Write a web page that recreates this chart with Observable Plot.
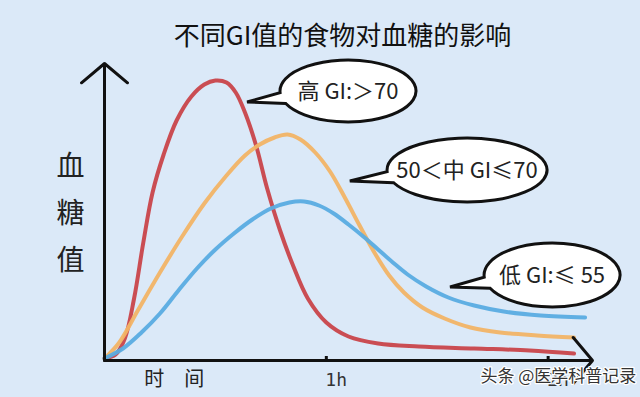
<!DOCTYPE html>
<html>
<head>
<meta charset="utf-8">
<script src="https://cdn.jsdelivr.net/npm/d3@7"></script>
<script src="https://cdn.jsdelivr.net/npm/@observablehq/plot@0.6"></script>
<style>
  html, body { margin: 0; padding: 0; background: #dbe9f8; }
  #chart svg { display: block; background: #dbe9f8; }
</style>
</head>
<body>
<div id="chart"></div>
<script>
// ---- Data (time in minutes, blood-sugar in relative units) ----
const title = "不同GI值的食物对血糖的影响";
const yLabel = "血\n糖\n值";
const xLabel = "时\u2003间";
const tickTimes = [60, 120];
const tickLabels = ["1h", "2h"];
const watermark = "头条 @医学科普记录";

const redT = [0, 3, 5.5, 8, 10.5, 13, 16, 19.5, 23.5, 27, 30, 33, 35.5, 38, 41, 44, 47.5, 51, 55, 60, 66, 74, 85, 100, 115, 127];
const redV = [2, 6, 22, 62, 118, 168, 206, 240, 264, 276, 280, 278, 268, 248, 215, 172, 130, 95, 62, 38, 24, 17, 14, 12, 10, 7];

const orangeT = [0, 4, 9, 15, 21, 27, 33, 38, 42, 46, 49.5, 53, 57, 61, 65, 69, 73, 77, 81, 86, 92, 99, 107, 117, 127];
const orangeV = [2, 18, 50, 88, 124, 157, 185, 205, 216, 223, 226, 221, 208, 189, 163, 135, 108, 85, 68, 53, 42, 33, 28, 25, 23];

const blueT = [0, 5, 10, 15, 20, 25, 30, 35, 40, 45, 50, 54, 58, 62, 66, 70, 74, 78, 82, 87, 93, 100, 108, 118, 130];
const blueV = [2, 12, 28, 47, 70, 92, 111, 127, 141, 152, 158, 159, 155, 147, 136, 124, 111, 98, 86, 74, 63, 55, 49, 45, 43];

const seriesNames = ["高GI", "中GI", "低GI"];
const seriesColors = ["#c9454a", "#f2b466", "#5aace2"];

// Annotation bubbles: label, bubble centre (t, v), tail tip (t, v)
const bubbleTexts = ["高 GI:＞70", "50＜中 GI≤70", "低 GI:≤ 55"];
const bubbleCX = [66.0, 98.2, 121.2];
const bubbleCY = [269, 190, 85];
const tailX = [38.7, 66.5, 93.6];
const tailY = [258, 179, 73];

// ---- Build tables ----
const lines = [
  ...redT.map((t, i) => ({t, v: redV[i], s: seriesNames[0]})),
  ...orangeT.map((t, i) => ({t, v: orangeV[i], s: seriesNames[1]})),
  ...blueT.map((t, i) => ({t, v: blueV[i], s: seriesNames[2]}))
];
const bubbles = bubbleTexts.map((text, i) => ({text, cx: bubbleCX[i], cy: bubbleCY[i], tx: tailX[i], ty: tailY[i]}));
const ticks = tickTimes.map((t, i) => ({t, label: tickLabels[i]}));

const CJK = "'Noto Sans CJK SC', 'Noto Sans', sans-serif";
const RX = [68, 80, 68], RY = [31, 32, 32];

// Custom mark: speech bubbles placed through the plot's scales
function bubbleMark(index, scales, values, dimensions, context) {
  const g = d3.create("svg:g");
  bubbles.forEach((b, i) => {
    const cx = scales.x(b.cx), cy = scales.y(b.cy);
    const tx = scales.x(b.tx), ty = scales.y(b.ty);
    const rx = RX[i], ry = RY[i];
    const t0 = Math.atan2((ty - cy) / ry, (tx - cx) / rx);
    const d = 0.18;
    const ax = cx + rx * Math.cos(t0 - d), ay = cy + ry * Math.sin(t0 - d);
    const bx = cx + rx * Math.cos(t0 + d), by = cy + ry * Math.sin(t0 + d);
    g.append("path")
      .attr("d", `M${ax},${ay}L${tx},${ty}L${bx},${by}A${rx},${ry} 0 1 1 ${ax},${ay}Z`)
      .attr("fill", "#ffffff")
      .attr("stroke", "#111")
      .attr("stroke-width", 3)
      .attr("stroke-linejoin", "miter");
    g.append("text")
      .attr("x", cx)
      .attr("y", cy)
      .attr("text-anchor", "middle")
      .attr("dy", "0.36em")
      .attr("font-family", CJK)
      .attr("font-size", 22)
      .attr("fill", "#222")
      .text(b.text);
  });
  return g.node();
}

const chart = Plot.plot({
  width: 640,
  height: 397,
  marginLeft: 104,
  marginRight: 48,
  marginTop: 65,
  marginBottom: 37,
  x: {domain: [0, 132], axis: null},
  y: {domain: [0, 295], axis: null},
  color: {domain: seriesNames, range: seriesColors},
  style: {background: "#dbe9f8", overflow: "visible"},
  marks: [
    Plot.line(lines, {x: "t", y: "v", z: "s", stroke: "s", strokeWidth: 4, curve: "catmull-rom", strokeOpacity: 0.95}),
    Plot.arrow([{x1: 0, y1: 0, x2: 132, y2: 0}], {x1: "x1", y1: "y1", x2: "x2", y2: "y2", stroke: "#111", strokeWidth: 3, headLength: 15, headAngle: 100}),
    Plot.arrow([{x1: 0, y1: 0, x2: 0, y2: 297}], {x1: "x1", y1: "y1", x2: "x2", y2: "y2", stroke: "#111", strokeWidth: 3, headLength: 15, headAngle: 100}),
    Plot.ruleX(ticks, {x: "t", y1: 0, y2: 4, stroke: "#111", strokeWidth: 3}),
    bubbleMark,
    Plot.text(ticks, {x: "t", y: -20, text: "label", textAnchor: "start", dx: -1, fontSize: 18, fontFamily: "'DejaVu Sans Mono', monospace", fill: "#333"}),
    Plot.text([xLabel], {x: 18.9, y: -19, text: d => d, fontSize: 20, fontFamily: CJK, fill: "#222"}),
    Plot.text([yLabel], {frameAnchor: "left", y: 153, dx: -34, text: d => d, textAnchor: "middle", lineHeight: 1.68, fontSize: 28, fontFamily: CJK, fill: "#222"}),
    Plot.text([title], {frameAnchor: "top", dx: -6, dy: -39, text: d => d, fontSize: 26, fontFamily: CJK, fill: "#111"}),
    Plot.text([watermark], {x: 101.7, y: -16, text: d => d, textAnchor: "start", fontSize: 17, fontFamily: CJK, fill: "#333", stroke: "#ffffff", strokeWidth: 2.5})
  ]
});

document.getElementById("chart").appendChild(chart);
</script>
</body>
</html>
